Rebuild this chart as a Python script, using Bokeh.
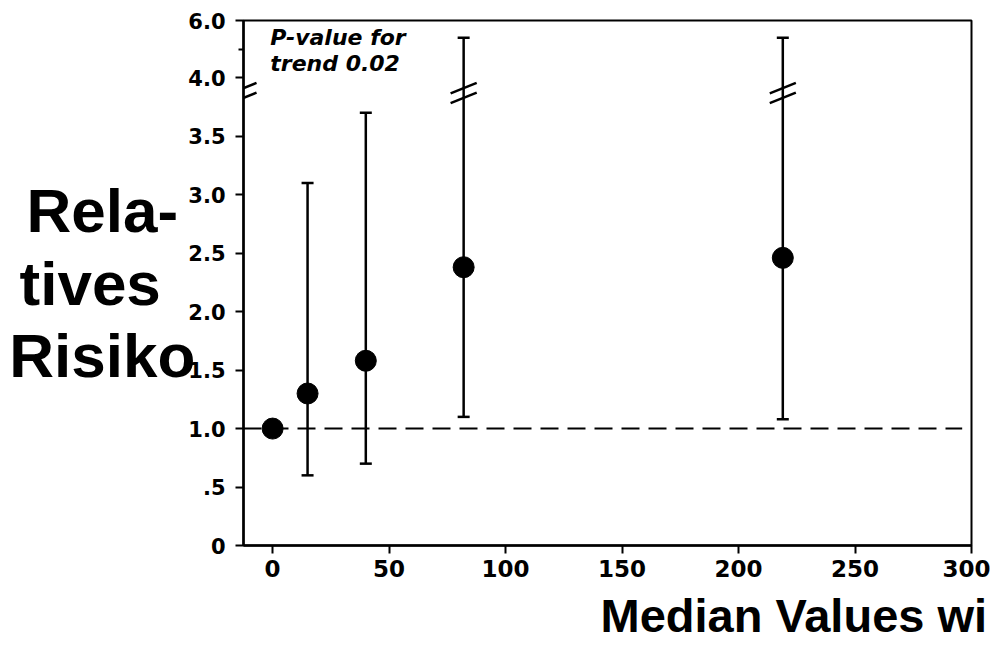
from bokeh.plotting import figure
from bokeh.models import Range1d, FixedTicker, Label, Title
from bokeh.embed import file_html
from bokeh.resources import INLINE

# ---------------- data ----------------
EXPOSURE = [0, 15, 40, 82, 219]
RR = [1.0, 1.3, 1.58, 2.38, 2.46]
CI_X = [15, 40, 82, 219]
CI_LOW = [0.6, 0.7, 1.1, 1.08]
CI_HIGH = [3.1, 3.7, 5.4, 5.4]
BROKEN_CI_X = [82, 219]
REF_RR = 1.0
X_TICKS = [0, 50, 100, 150, 200, 250, 300]
Y_TICK_VALUES = [0, 0.5, 1.0, 1.5, 2.0, 2.5, 3.0, 3.5, 4.0, 6.0]
Y_TICK_LABELS = ["0", ".5", "1.0", "1.5", "2.0", "2.5", "3.0", "3.5", "4.0", "6.0"]
Y_MINOR_VALUES = [5.0]
ANNOTATION = ["P-value for", "trend 0.02"]
Y_TITLE = ["Rela-", "tives", "Risiko"]
X_TITLE = "Median Values wi"

# ---------------- broken y scale ----------------
BREAK_FROM = 4.0
UPPER_SCALE = 0.245


def tr(v):
    return v if v <= BREAK_FROM else BREAK_FROM + (v - BREAK_FROM) * UPPER_SCALE


X_START, X_END = -12.5, 300
Y_END = tr(6.0)
BREAK_U = 3.87

W, H = 990, 650
p = figure(width=W, height=H, output_backend="svg", toolbar_location=None,
           x_range=Range1d(X_START, X_END), y_range=Range1d(0, Y_END),
           min_border_left=243, min_border_right=W - 971, min_border_top=20,
           min_border_bottom=H - 545)
p.grid.visible = False
p.background_fill_color = "white"
p.border_fill_color = "white"
p.outline_line_color = "black"
p.outline_line_width = 2

# axes
for ax in (p.xaxis[0], p.yaxis[0]):
    ax.axis_line_width = 2.5
    ax.axis_line_color = "black"
    ax.major_tick_line_width = 2
    ax.major_tick_line_color = "black"
    ax.major_tick_in = 0
    ax.major_tick_out = 8
    ax.major_label_text_font = "DejaVu Sans"
    ax.major_label_text_font_style = "bold"
    ax.major_label_text_color = "black"

p.xaxis.ticker = FixedTicker(ticks=X_TICKS)
p.xaxis.minor_tick_line_color = None
p.xaxis.major_label_text_font_size = "23px"
p.xaxis.major_label_standoff = 6

p.yaxis.ticker = FixedTicker(ticks=[tr(v) for v in Y_TICK_VALUES],
                             minor_ticks=[tr(v) for v in Y_MINOR_VALUES])
p.yaxis.major_label_overrides = {tr(v): lab for v, lab in zip(Y_TICK_VALUES, Y_TICK_LABELS)}
p.yaxis.minor_tick_line_width = 2
p.yaxis.minor_tick_line_color = "black"
p.yaxis.minor_tick_in = 0
p.yaxis.minor_tick_out = 5
p.yaxis.major_label_text_font_size = "21px"
p.yaxis.major_label_standoff = 10

# big y title as a multi-line horizontal axis label (lines roughly centred)
NB = "\u00a0"
pads = [1, 2, 0]
p.yaxis.axis_label = "\n".join(t + NB * n for t, n in zip(Y_TITLE, pads))
p.yaxis.axis_label_orientation = "horizontal"
p.yaxis.axis_label_text_font = "Liberation Sans"
p.yaxis.axis_label_text_font_style = "bold"
p.yaxis.axis_label_text_font_size = "62px"
p.yaxis.axis_label_text_color = "black"
p.yaxis.axis_label_text_line_height = 1.05
p.yaxis.axis_label_standoff = -10

# reference line
p.segment(x0=[X_START], y0=[REF_RR], x1=[296], y1=[REF_RR],
          line_color="black", line_width=2, line_dash="18 9")

# error bars
p.segment(x0=CI_X, y0=[tr(v) for v in CI_LOW], x1=CI_X, y1=[tr(v) for v in CI_HIGH],
          line_color="black", line_width=2.5)
p.scatter(CI_X + CI_X, [tr(v) for v in CI_LOW] + [tr(v) for v in CI_HIGH],
          marker="dash", size=12, line_color="black", line_width=2.5)

# break marks (axis and broken CIs)
HW, DY, GAP = 5.6, 0.045, 0.042
bx = [X_START] + BROKEN_CI_X
x0s, y0s, x1s, y1s = [], [], [], []
for xb in bx:
    for off in (-GAP, GAP):
        x0s.append(xb - HW)
        y0s.append(BREAK_U - DY + off)
        x1s.append(xb + HW)
        y1s.append(BREAK_U + DY + off)
p.segment(x0=x0s, y0=y0s, x1=x1s, y1=y1s, line_color="black", line_width=2.5)

# points
p.scatter(EXPOSURE, [tr(v) for v in RR], size=21, fill_color="black", line_color="black")

# annotation text
for t, yy in zip(ANNOTATION, [4.344, 4.122]):
    p.add_layout(Label(x=-1, y=yy, text=t, text_font="DejaVu Sans",
                       text_font_style="bold italic", text_font_size="22px",
                       text_color="black", text_baseline="alphabetic", text_align="left"))

# big x title in the below panel
p.add_layout(Title(text=X_TITLE, align="left", offset=357, text_font="Liberation Sans",
                   text_font_style="bold", text_font_size="47px", text_color="black",
                   text_line_height=1.55, standoff=15), "below")

open("out.html", "w").write(file_html(p, INLINE))
